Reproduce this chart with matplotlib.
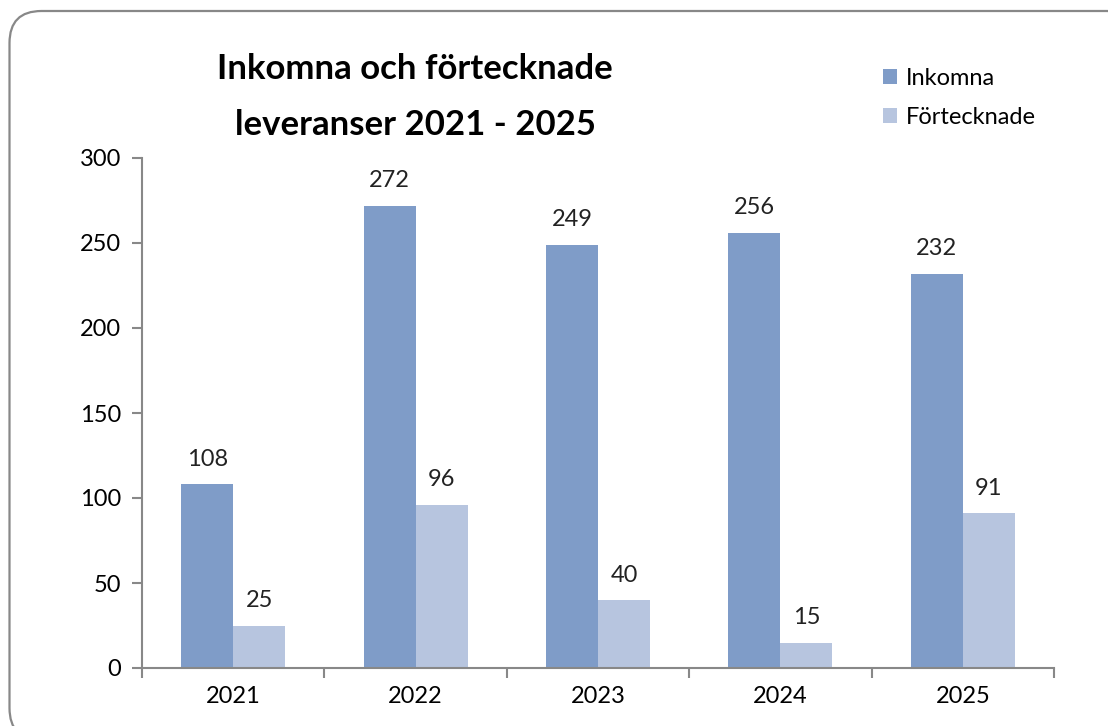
import matplotlib.pyplot as plt
from matplotlib.patches import FancyBboxPatch
import numpy as np

plt.rcParams["font.family"] = ["Lato", "DejaVu Sans"]

years = ["2021", "2022", "2023", "2024", "2025"]
inkomna = [108, 272, 249, 256, 232]
fortecknade = [25, 96, 40, 15, 91]

c_ink = "#7f9cc8"
c_fort = "#b7c5df"
grey = "#888888"

fig = plt.figure(figsize=(11.08, 7.26), dpi=100)

# rounded frame, cut off at right and bottom like the source
frame = FancyBboxPatch((0.095, -0.14), 11.3, 7.29,
                       boxstyle="round,pad=0,rounding_size=0.32",
                       transform=fig.dpi_scale_trans, fill=False,
                       edgecolor=grey, linewidth=1.6)
fig.patches.append(frame)

ax = fig.add_axes([142 / 1108, 58 / 726, 912 / 1108, 510 / 726])

x = np.arange(len(years))
w = 0.285
b1 = ax.bar(x - w / 2, inkomna, w, color=c_ink, label="Inkomna")
b2 = ax.bar(x + w / 2, fortecknade, w, color=c_fort, label="Förtecknade")

for bars in (b1, b2):
    for r in bars:
        ax.annotate(f"{int(r.get_height())}", (r.get_x() + r.get_width() / 2, r.get_height()),
                    xytext=(0, 18), textcoords="offset points", ha="center", va="center",
                    fontsize=17, color="#222222")

ax.set_xlim(-0.5, len(years) - 0.5)
ax.set_ylim(0, 300)
ax.set_yticks(range(0, 301, 50))
ax.set_xticks(x)
ax.set_xticklabels(years)
ax.set_xticks(np.arange(-0.5, len(years)), minor=True)
ax.tick_params(axis="x", which="major", length=0, pad=13, labelsize=17)
ax.tick_params(axis="x", which="minor", length=7, width=1.5, color=grey)
ax.tick_params(axis="y", length=7, width=1.5, color=grey, pad=8, labelsize=17)
for s in ("top", "right"):
    ax.spines[s].set_visible(False)
for s in ("left", "bottom"):
    ax.spines[s].set_color(grey)
    ax.spines[s].set_linewidth(1.5)

fig.text(415 / 1108, 1 - 97 / 726, "Inkomna och förtecknade\nleveranser 2021 - 2025",
         ha="center", va="center", fontsize=25, fontweight="bold", linespacing=1.95)

ax.legend(loc="upper left", bbox_to_anchor=(862 / 1108, 1 - 47 / 726),
          bbox_transform=fig.transFigure, frameon=False, fontsize=17,
          handlelength=0.6, handleheight=0.6, handletextpad=0.35, labelspacing=0.75)

fig.savefig("out.png", dpi=100)
